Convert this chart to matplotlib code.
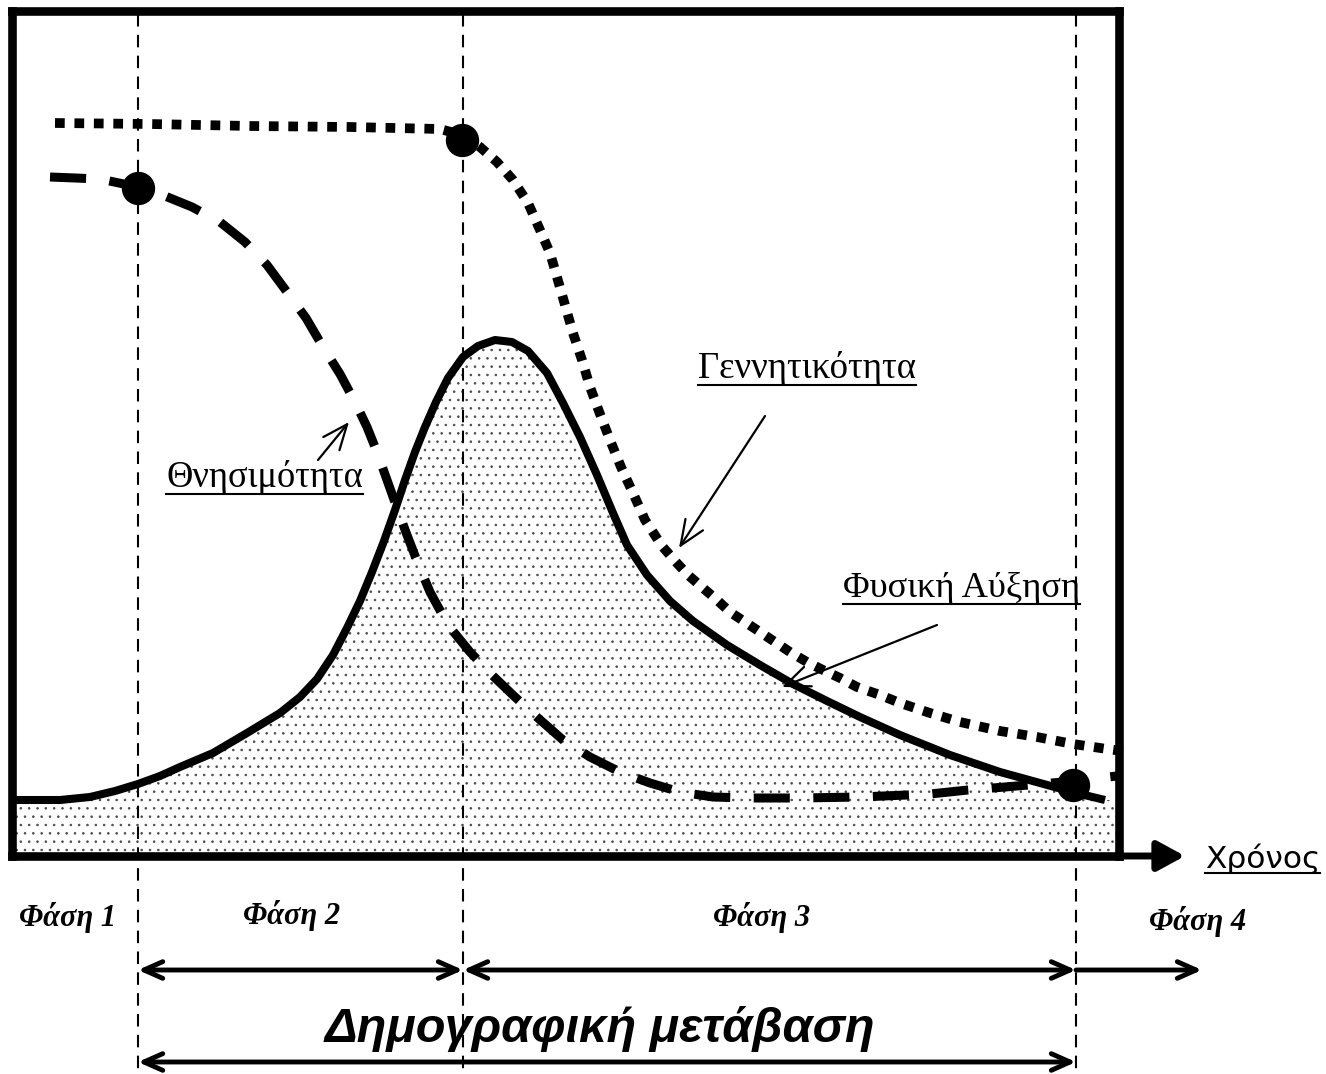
import numpy as np
import matplotlib.pyplot as plt
from matplotlib.lines import Line2D

# Καμπύλες (x = χρόνος, y = ύψος), διαβασμένες από την εικόνα
birth_x = [55, 150, 250, 350, 440, 462, 480, 497, 513, 528, 540, 550, 557, 565, 573, 582,
           590, 600, 610, 621, 633, 645, 662, 675, 688, 703, 717, 730, 745, 760, 775, 790,
           807, 823, 840, 857, 880, 900, 930, 960, 1000, 1037, 1073, 1107, 1130]
birth_y = [123, 124, 126, 127, 129, 135, 147, 162, 180, 203, 230, 253, 277, 305, 333, 360,
           387, 414, 440, 467, 493, 520, 546, 561, 575, 588, 600, 612, 622, 632, 642, 652,
           662, 670, 678, 687, 695, 703, 713, 722, 731, 737, 744, 749, 752]

death_x = [50, 100, 138, 165, 192, 220, 245, 267, 287, 306, 323, 340, 355, 367, 377, 387,
           397, 407, 417, 430, 448, 470, 492, 515, 538, 563, 590, 620, 650, 680, 713, 747,
           800, 860, 930, 968, 1005, 1040, 1075, 1117]
death_y = [177, 179, 187, 196, 207, 222, 242, 265, 292, 318, 347, 374, 402, 427, 452, 480,
           508, 535, 561, 592, 625, 652, 675, 697, 718, 740, 757, 772, 783, 792, 797, 798,
           798, 797, 794, 790, 787, 784, 781, 776]

growth_x = [15, 60, 90, 115, 138, 160, 180, 213, 247, 280, 300, 317, 333, 347, 360, 372,
            384, 395, 405, 415, 425, 436, 448, 463, 478, 495, 512, 528, 547, 563, 580, 597,
            613, 627, 647, 670, 693, 727, 760, 793, 827, 860, 900, 950, 1000, 1040, 1076, 1105]
growth_y = [800, 800, 797, 791, 784, 776, 767, 753, 733, 713, 697, 679, 655, 628, 601, 572,
            541, 510, 480, 452, 427, 402, 378, 357, 346, 340, 342, 351, 373, 403, 437, 475,
            513, 545, 575, 601, 621, 645, 665, 684, 701, 717, 735, 755, 772, 783, 793, 800]

phase_x = [138, 463, 1076]           # όρια φάσεων
key_x = [138, 462, 1073]             # σημεία-ορόσημα
key_y = [188, 140, 785]

phase_labels = ['Φάση 1', 'Φάση 2', 'Φάση 3', 'Φάση 4']
phase_label_x = [68, 292, 762, 1198]
phase_label_y = [926, 924, 926, 930]

# πλαίσιο (σε pixel της εικόνας)
L, R, T, B = 12, 1119, 11, 856
W, H = 1326, 1074

plt.rcParams['hatch.linewidth'] = 0.6

fig = plt.figure(figsize=(13.26, 10.74), dpi=100)
ax = fig.add_axes([L / W, 1 - B / H, (R - L) / W, (B - T) / H])
ax.set_xlim(L, R)
ax.set_ylim(B, T)
ax.set_xticks([])
ax.set_yticks([])
for s in ax.spines.values():
    s.set_linewidth(6.2)
    s.set_capstyle('projecting')

serif = 'Liberation Serif'
sans = 'Liberation Sans'

# γέμισμα κάτω από τη φυσική αύξηση
fx = [L] + growth_x + [R]
fy = [growth_y[0]] + growth_y + [growth_y[-1]]
ax.fill_between(fx, fy, B, facecolor='white', edgecolor='#4a4a4a', hatch='..',
                linewidth=0, zorder=1)

# κατακόρυφες διακεκομμένες
for px in phase_x:
    ax.plot([px, px], [T + 3, H], color='black', lw=1.5, dashes=(6, 4),
            clip_on=False, zorder=2)

ax.plot(growth_x, growth_y, color='black', lw=5.8, solid_capstyle='butt',
        solid_joinstyle='round', zorder=4)
ax.plot(death_x, death_y, color='black', lw=6.5, dashes=(4, 2.6),
        dash_capstyle='butt', dash_joinstyle='round', zorder=4, clip_on=False)
ax.plot(birth_x, birth_y, color='black', lw=7, dashes=(1, 1),
        dash_capstyle='butt', dash_joinstyle='round', zorder=4, clip_on=False)
ax.plot(key_x, key_y, 'o', color='black', ms=23, zorder=5)

# άξονας χρόνου
ax.annotate('', xy=(1185, B), xytext=(R - 2, B), annotation_clip=False,
            arrowprops=dict(arrowstyle='-|>,head_length=0.55,head_width=0.3',
                            lw=5, color='black', mutation_scale=30,
                            shrinkA=0, shrinkB=0))

labels = []
labels.append(ax.text(1205, 868, 'Χρόνος', fontsize=22.5, family='DejaVu Sans',
                      va='baseline', ha='left', clip_on=False))
labels.append(ax.text(166, 487, 'Θνησιμότητα', fontsize=26.3, family=serif, va='baseline'))
labels.append(ax.text(698, 378, 'Γεννητικότητα', fontsize=26.5, family=serif, va='baseline'))
labels.append(ax.text(843, 597, 'Φυσική Αύξηση', fontsize=26.2, family=serif, va='baseline'))

thin = dict(arrowstyle='->,head_length=0.6,head_width=0.25', lw=1.6, color='black',
            mutation_scale=30, shrinkA=0, shrinkB=0)
ax.annotate('', xy=(349, 422), xytext=(318, 460), arrowprops=thin)
ax.annotate('', xy=(679, 548), xytext=(765, 416), arrowprops=thin)
ax.annotate('', xy=(782, 687), xytext=(937, 625), arrowprops=thin)

for lab, lx, ly in zip(phase_labels, phase_label_x, phase_label_y):
    ax.text(lx, ly, lab, fontsize=22, family=serif, weight='bold', style='italic',
            ha='center', va='baseline', clip_on=False)

dbl = dict(arrowstyle='<->,head_length=0.45,head_width=0.2', lw=3.5, color='black',
           mutation_scale=30, shrinkA=0, shrinkB=0)
one = dict(arrowstyle='->,head_length=0.45,head_width=0.2', lw=3.5, color='black',
           mutation_scale=30, shrinkA=0, shrinkB=0)
ax.annotate('', xy=(phase_x[1], 970), xytext=(phase_x[0], 970), arrowprops=dbl,
            annotation_clip=False)
ax.annotate('', xy=(phase_x[2], 970), xytext=(phase_x[1], 970), arrowprops=dbl,
            annotation_clip=False)
ax.annotate('', xy=(1202, 970), xytext=(phase_x[2], 970), arrowprops=one,
            annotation_clip=False)
ax.annotate('', xy=(phase_x[2], 1062), xytext=(phase_x[0], 1062), arrowprops=dbl,
            annotation_clip=False)
ax.text(600, 1042, 'Δημογραφική μετάβαση', fontsize=35, family=sans, weight='bold',
        style='italic', ha='center', va='baseline', clip_on=False)

# υπογράμμιση ετικετών
fig.canvas.draw()
r = fig.canvas.get_renderer()
inv = ax.transData.inverted()
for t in labels:
    bb = t.get_window_extent(r)
    x0, _ = inv.transform((bb.x0, 0))
    x1, _ = inv.transform((bb.x1, 0))
    _, yb = inv.transform((0, bb.y0 + 1))
    ax.add_line(Line2D([x0, x1], [yb, yb], color='black', lw=1.5, clip_on=False))

fig.savefig('out.png', dpi=100)
